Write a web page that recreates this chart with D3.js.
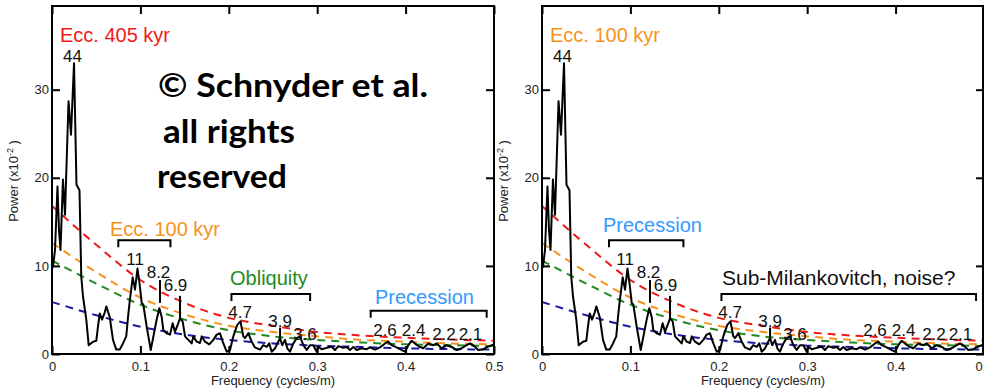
<!DOCTYPE html>
<html>
<head>
<meta charset="utf-8">
<script src="https://cdn.jsdelivr.net/npm/d3@7/dist/d3.min.js"></script>
<style>
  body { margin: 0; background: #fff; }
  text { font-family: "Liberation Sans", Arial, sans-serif; }
</style>
</head>
<body>
<svg id="chart" width="984" height="391"></svg>
<script>
// spectrum (cycles/m vs power x10^-2)
const freq = [0.001, 0.0034, 0.0062, 0.0079, 0.0096, 0.0124, 0.0147, 0.0187, 0.0215, 0.0249,
  0.0277, 0.0311, 0.0331, 0.0351, 0.0388, 0.0415, 0.0464, 0.0501, 0.052, 0.054,
  0.0566, 0.0596, 0.0614, 0.0653, 0.069, 0.0727, 0.0766, 0.0803, 0.084, 0.086,
  0.0877, 0.0913, 0.0939, 0.0967, 0.0988, 0.1015, 0.1033, 0.1071, 0.1117, 0.1154,
  0.1184, 0.1214, 0.1241, 0.1259, 0.1297, 0.1335, 0.1365, 0.1391, 0.1429, 0.1448,
  0.1478, 0.1505, 0.1542, 0.158, 0.1599, 0.1637, 0.1674, 0.1693, 0.1731, 0.1779,
  0.1825, 0.1863, 0.19, 0.1931, 0.1976, 0.2014, 0.2051, 0.2096, 0.2132, 0.2164,
  0.2183, 0.2221, 0.2259, 0.2296, 0.2353, 0.239, 0.2429, 0.2458, 0.2485, 0.2523,
  0.2579, 0.2605, 0.2636, 0.2662, 0.2692, 0.273, 0.2768, 0.2805, 0.2843, 0.2881,
  0.2919, 0.2956, 0.2994, 0.3012, 0.3051, 0.3107, 0.3164, 0.3201, 0.3239, 0.3292,
  0.3334, 0.3371, 0.3408, 0.3447, 0.3503, 0.356, 0.3597, 0.3654, 0.371, 0.3767,
  0.3804, 0.3843, 0.3899, 0.3956, 0.3993, 0.4031, 0.4069, 0.4106, 0.4144, 0.42,
  0.4257, 0.4313, 0.4352, 0.4408, 0.4465, 0.4522, 0.4578, 0.4635, 0.4691, 0.4729,
  0.4785, 0.4822, 0.4879, 0.4917, 0.4974, 0.5];
const power = [9.8, 11.8, 19.0, 14.1, 11.8, 19.8, 15.8, 28.7, 24.9, 33.0,
  19.2, 18.6, 8.8, 6.5, 3.9, 1.0, 1.4, 1.5, 3.1, 4.6,
  3.9, 4.7, 5.4, 4.2, 1.6, 0.5, 0.5, 1.2, 2.0, 4.2,
  5.8, 8.7, 7.3, 9.7, 8.2, 5.8, 5.6, 3.1, 0.45, 2.35,
  3.9, 5.2, 4.2, 2.7, 2.35, 2.2, 3.5, 2.5, 3.5, 4.05,
  3.7, 2.0, 1.6, 1.2, 2.0, 1.4, 1.25, 2.0, 1.4, 1.1,
  1.6, 2.2, 2.35, 1.4, 0.26, 0.45, 2.0, 3.3, 3.7, 2.0,
  1.8, 2.35, 1.4, 0.75, 0.5, 1.0, 0.8, 1.2, 0.26, 0.65,
  1.8, 1.0, 1.6, 0.65, 0.26, 1.2, 1.8, 2.0, 1.0, 0.45,
  1.0, 1.0, 0.26, 0.83, 0.53, 0.7, 0.83, 0.45, 0.9, 0.7,
  0.8, 0.45, 0.8, 0.45, 0.65, 0.55, 0.75, 0.5, 0.75, 1.2,
  1.4, 1.0, 0.75, 0.45, 0.26, 1.0, 1.5, 1.2, 0.9, 0.65,
  1.2, 1.0, 1.2, 0.65, 1.0, 0.8, 0.45, 0.65, 1.0, 1.2,
  0.83, 0.45, 0.55, 0.75, 1.0, 1.1];

// noise / confidence levels
const noiseFreq = [0, 0.05, 0.1, 0.15, 0.2, 0.25, 0.3, 0.35, 0.4, 0.45, 0.5];
const level99 = [16.8, 12.4, 8.4, 5.8, 4.1, 3.2, 2.5, 2.1, 1.85, 1.65, 1.5];
const level95 = [12.6, 9.3, 6.4, 4.5, 3.2, 2.5, 2.0, 1.6, 1.4, 1.2, 1.1];
const level90 = [10.6, 8.0, 5.6, 3.9, 2.7, 2.0, 1.6, 1.3, 1.1, 1.0, 0.9];
const level50 = [5.9, 4.4, 3.1, 2.2, 1.6, 1.2, 0.95, 0.8, 0.65, 0.55, 0.5];
const levelColors = ["#f01818", "#f7921e", "#1f8a1f", "#1a1aa0"];

// peak periods (m) and where their labels sit
const peakText = ["44", "11", "8.2", "6.9", "4.7", "3.9", "3.6", "2.6", "2.4", "2.2", "2.1"];
const peakFreq = [0.0232, 0.094, 0.1205, 0.1397, 0.2127, 0.258, 0.2862, 0.3767, 0.409, 0.4434, 0.4734];
const peakLabelPower = [33.2, 10.1, 8.6, 7.2, 4.1, 3.1, 1.6, 2.05, 2.05, 1.6, 1.6];
const markerFreq = [0.1222, 0.1448, 0.258];
const markerTop = [8.4, 6.6, 3.0];
const markerBottom = [5.8, 4.1, 1.8];

const xTicks = [0, 0.1, 0.2, 0.3, 0.4, 0.5];
const yTicks = [0, 10, 20, 30];

const leftBands = [
  {text: "Ecc. 100 kyr", color: "#f7921e", tx: 0.0656, ty: 13.4, f0: 0.075, f1: 0.134, by: 12.9, size: 20},
  {text: "Obliquity", color: "#1f8a1f", tx: 0.2014, ty: 7.84, f0: 0.203, f1: 0.292, by: 6.8, size: 20},
  {text: "Precession", color: "#3399ff", tx: 0.3654, ty: 5.68, f0: 0.3605, f1: 0.4917, by: 4.9, size: 20}
];
const rightBands = [
  {text: "Precession", color: "#3399ff", tx: 0.069, ty: 13.8, f0: 0.0758, f1: 0.16, by: 12.9, size: 20},
  {text: "Sub-Milankovitch, noise?", color: "#111", tx: 0.2036, ty: 7.84, f0: 0.203, f1: 0.491, by: 6.8, size: 21}
];

const svg = d3.select("#chart");
const plotTop = 6, plotBottom = 354, panelW = 442;

function drawPanel(x0, title, titleColor, bands) {
  const x = d3.scaleLinear().domain([0, 0.5]).range([x0, x0 + panelW]);
  const y = d3.scaleLinear().domain([0, 39.5]).range([plotBottom, plotTop]);
  const g = svg.append("g");

  // noise levels
  [level99, level95, level90, level50].forEach((lv, i) => {
    g.append("path")
      .datum(noiseFreq.map((f, j) => [f, lv[j]]))
      .attr("fill", "none")
      .attr("stroke", levelColors[i])
      .attr("stroke-width", 2)
      .attr("stroke-dasharray", "8,6")
      .attr("d", d3.line().x(d => x(d[0])).y(d => y(d[1])).curve(d3.curveMonotoneX));
  });

  // spectrum
  g.append("path")
    .datum(freq.map((f, i) => [f, power[i]]))
    .attr("fill", "none")
    .attr("stroke", "#000")
    .attr("stroke-width", 2)
    .attr("stroke-linejoin", "round")
    .attr("d", d3.line().x(d => x(d[0])).y(d => y(d[1])));

  // axes, ticks inward on all sides
  const tickFont = sel => sel.selectAll("text").attr("font-size", 13).attr("fill", "#222")
    .style("font-family", "'Liberation Sans', Arial, sans-serif");
  const xb = g.append("g").attr("transform", `translate(0,${plotBottom})`)
    .call(d3.axisBottom(x).tickValues(xTicks).tickSizeInner(-8).tickSizeOuter(0).tickPadding(8).tickFormat(d3.format("")));
  tickFont(xb);
  const xt = g.append("g").attr("transform", `translate(0,${plotTop})`)
    .call(d3.axisTop(x).tickValues(xTicks).tickSizeInner(-8).tickSizeOuter(0).tickFormat(""));
  const yl = g.append("g").attr("transform", `translate(${x0},0)`)
    .call(d3.axisLeft(y).tickValues(yTicks).tickSizeInner(-8).tickSizeOuter(0).tickPadding(3));
  tickFont(yl);
  const yr = g.append("g").attr("transform", `translate(${x0 + panelW},0)`)
    .call(d3.axisRight(y).tickValues(yTicks).tickSizeInner(-8).tickSizeOuter(0).tickFormat(""));
  [xb, xt, yl, yr].forEach(a => {
    a.select(".domain").remove();
    a.selectAll("line").attr("stroke", "#000").attr("stroke-width", 2);
  });
  g.append("rect")
    .attr("x", x0).attr("y", plotTop)
    .attr("width", Math.min(panelW, 983 - x0)).attr("height", plotBottom - plotTop)
    .attr("fill", "none").attr("stroke", "#000").attr("stroke-width", 2);

  // axis titles
  g.append("text")
    .attr("x", x(0.25)).attr("y", 385)
    .attr("text-anchor", "middle").attr("font-size", 13).attr("fill", "#222")
    .text("Frequency (cycles/m)");
  const yt = g.append("text")
    .attr("transform", `translate(${x0 - 34},${(plotTop + plotBottom) / 2 + 1}) rotate(-90)`)
    .attr("text-anchor", "middle").attr("font-size", 13).attr("fill", "#222");
  yt.append("tspan").text("Power (x10");
  yt.append("tspan").attr("font-size", 9).attr("dy", -5).text("-2");
  yt.append("tspan").attr("dy", 5).text(" )");

  // title
  g.append("text")
    .attr("x", x(0.009)).attr("y", y(35.45))
    .attr("font-size", 20).attr("fill", titleColor).text(title);

  // peak labels and markers
  peakText.forEach((t, i) => {
    g.append("text")
      .attr("x", x(peakFreq[i])).attr("y", y(peakLabelPower[i]))
      .attr("text-anchor", "middle").attr("font-size", 17).attr("fill", "#111")
      .text(t);
  });
  markerFreq.forEach((f, i) => {
    g.append("line")
      .attr("x1", x(f)).attr("x2", x(f))
      .attr("y1", y(markerTop[i])).attr("y2", y(markerBottom[i]))
      .attr("stroke", "#000").attr("stroke-width", 2);
  });

  // bracketed bands
  bands.forEach(b => {
    const yy = y(b.by);
    g.append("path")
      .attr("d", `M${x(b.f0)},${yy + 7}V${yy}H${x(b.f1)}V${yy + 7}`)
      .attr("fill", "none").attr("stroke", "#000").attr("stroke-width", 2);
    g.append("text")
      .attr("x", x(b.tx)).attr("y", y(b.ty))
      .attr("font-size", b.size).attr("fill", b.color).text(b.text);
  });
}

drawPanel(52, "Ecc. 405 kyr", "#f01818", leftBands);
drawPanel(542, "Ecc. 100 kyr", "#f7921e", rightBands);

// copyright overlay
const mark = [
  {t: "\u00a9 Schnyder et al.", x: 158, y: 97, w: 270},
  {t: "all rights", x: 163, y: 143, w: 132},
  {t: "reserved", x: 157, y: 188, w: 130}
];
mark.forEach(m => {
  svg.append("text")
    .attr("x", m.x).attr("y", m.y)
    .attr("font-size", 33).attr("font-weight", "bold").attr("fill", "#000")
    .style("font-family", "Lato, 'Open Sans', sans-serif")
    .attr("textLength", m.w).attr("lengthAdjust", "spacingAndGlyphs")
    .text(m.t);
});
</script>
</body>
</html>
